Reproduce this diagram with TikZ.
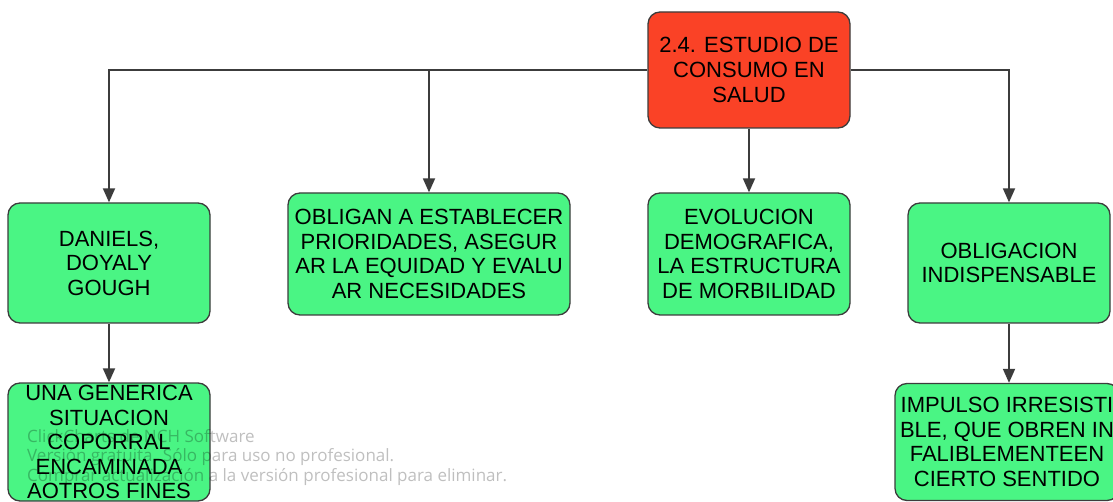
\documentclass[tikz,border=0pt]{standalone}
\usepackage{fontspec}
\setmainfont{Liberation Sans}
\newfontfamily\avisofont{Open Sans}
\usetikzlibrary{shapes.geometric,arrows.meta}
\definecolor{rojo}{RGB}{250,66,38}
\definecolor{verde}{RGB}{74,245,132}
\definecolor{linea}{RGB}{60,60,60}
\tikzstyle{tema}=[rectangle,rounded corners=12pt,minimum width=202pt,minimum height=116pt,inner sep=2pt,align=center,draw=linea,line width=1.3pt,fill=rojo,font=\fontsize{22}{25}\selectfont]
\tikzstyle{idea}=[rectangle,rounded corners=12pt,minimum width=202pt,minimum height=120pt,inner sep=2pt,align=center,draw=linea,line width=1.3pt,fill=verde,font=\fontsize{22}{24.5}\selectfont]
\tikzstyle{arrow}=[line width=1.8pt,draw=linea,-{Triangle[length=14pt,width=12pt]}]

\begin{document}
\begin{tikzpicture}[x=1pt,y=1pt,node distance=184pt]
            \useasboundingbox (0,0) rectangle (1113,-502);
            \node (estudio)[tema] at (749,-70){2.4. ESTUDIO DE\\CONSUMO EN\\SALUD};
            \node (daniels)[idea,below of=estudio,yshift=-9pt,xshift=-640pt]{DANIELS,\\DOYALY\\GOUGH};
            \node (obligan)[idea,below of=estudio,yshift=0pt,xshift=-320pt,minimum width=282pt,minimum height=122pt]{OBLIGAN A ESTABLECER\\PRIORIDADES, ASEGUR\\AR LA EQUIDAD Y EVALU\\AR NECESIDADES};
            \node (evolucion)[idea,below of=estudio,yshift=0pt,xshift=0pt,minimum height=122pt]{EVOLUCION\\DEMOGRAFICA,\\LA ESTRUCTURA\\DE MORBILIDAD};
            \node (obligacion)[idea,below of=estudio,yshift=-9pt,xshift=260pt]{OBLIGACION\\INDISPENSABLE};
            \node (generica)[idea,below of=daniels,yshift=5pt,xshift=0pt,minimum height=118pt]{UNA GENERICA\\SITUACION\\COPORRAL\\ENCAMINADA\\AOTROS FINES};
            \node (impulso)[idea,below of=obligacion,yshift=5pt,xshift=-2pt,minimum width=224pt,minimum height=117pt]{IMPULSO IRRESISTI\\BLE, QUE OBREN IN\\FALIBLEMENTEEN\\CIERTO SENTIDO};
            \draw [arrow] (estudio.west) -| (daniels.north);
            \draw [arrow] (estudio.west) -| (obligan.north);
            \draw [arrow] (estudio) -- (evolucion);
            \draw [arrow] (estudio.east) -| (obligacion.north);
            \draw [arrow] (daniels) -- (generica);
            \draw [arrow] (obligacion.south) -- (obligacion.south |- impulso.north);
            \node (aviso)[anchor=north west,align=left,inner sep=0pt,text=black,text opacity=0.25,font=\avisofont\fontsize{17}{19.5}\selectfont] at (27,-429){ClickCharts de NCH Software\\Versión gratuita. Sólo para uso no profesional.\\Comprar actualización a la versión profesional para eliminar.};
        \end{tikzpicture}
\end{document}
